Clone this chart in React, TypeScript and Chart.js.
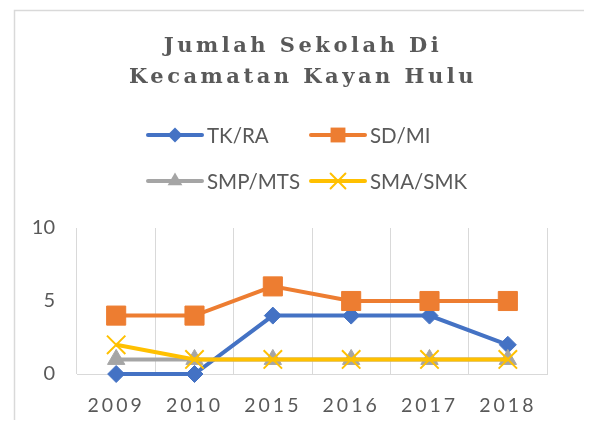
import React, { useEffect, useRef } from "react";
import { Chart, registerables } from "chart.js";

Chart.register(...registerables);

const categories = ["2009", "2010", "2015", "2016", "2017", "2018"];
const tkRa = [0, 0, 4, 4, 4, 2];
const sdMi = [4, 4, 6, 5, 5, 5];
const smpMts = [1, 1, 1, 1, 1, 1];
const smaSmk = [2, 1, 1, 1, 1, 1];
const seriesNames = ["TK/RA", "SD/MI", "SMP/MTS", "SMA/SMK"];
const titleLines = ["Jumlah Sekolah Di", "Kecamatan Kayan Hulu"];
const yMin = 0;
const yMax = 10;
const yStep = 5;

const COLORS = ["#4472C4", "#ED7D31", "#A5A5A5", "#FFC000"];
const STYLES = ["rectRot", "rect", "triangle", "crossRot"];
const RADII = [8.5, 13.5, 10, 13];
const TEXT = "#595959";
const GRID = "#d9d9d9";
const SANS = "Lato, 'Open Sans', sans-serif";

function drawMarker(ctx: CanvasRenderingContext2D, style: string, x: number, y: number, r: number, color: string) {
  ctx.save();
  ctx.fillStyle = color;
  ctx.strokeStyle = color;
  ctx.beginPath();
  if (style === "rectRot") {
    ctx.moveTo(x, y - r);
    ctx.lineTo(x + r, y);
    ctx.lineTo(x, y + r);
    ctx.lineTo(x - r, y);
    ctx.closePath();
    ctx.fill();
  } else if (style === "rect") {
    const s = Math.SQRT1_2 * r;
    ctx.rect(x - s, y - s, 2 * s, 2 * s);
    ctx.fill();
  } else if (style === "triangle") {
    for (let i = 0; i < 3; i++) {
      const a = (i * 2 * Math.PI) / 3;
      const px = x + Math.sin(a) * r;
      const py = y - Math.cos(a) * r;
      if (i === 0) ctx.moveTo(px, py);
      else ctx.lineTo(px, py);
    }
    ctx.closePath();
    ctx.fill();
  } else {
    const s = Math.SQRT1_2 * r;
    ctx.lineWidth = 2;
    ctx.moveTo(x - s, y - s);
    ctx.lineTo(x + s, y + s);
    ctx.moveTo(x + s, y - s);
    ctx.lineTo(x - s, y + s);
    ctx.stroke();
  }
  ctx.restore();
}

const decorPlugin = {
  id: "decor",
  afterLayout(chart: any) {
    const s = chart.scales.x;
    if (s && !s.__spaced) {
      const orig = s.drawLabels.bind(s);
      s.drawLabels = (area: any) => {
        const c = s.ctx;
        c.save();
        (c as any).letterSpacing = "3px";
        orig(area);
        c.restore();
      };
      s.__spaced = true;
    }
  },
  beforeDraw(chart: any) {
    const ctx: CanvasRenderingContext2D = chart.ctx;
    ctx.save();
    ctx.strokeStyle = GRID;
    ctx.lineWidth = 1.5;
    ctx.beginPath();
    ctx.moveTo(6.5, chart.height + 5);
    ctx.lineTo(6.5, 2.5);
    ctx.lineTo(chart.width + 5, 2.5);
    ctx.stroke();
    ctx.restore();
  },
  afterDraw(chart: any) {
    const ctx: CanvasRenderingContext2D = chart.ctx;
    // Title
    ctx.save();
    (ctx as any).letterSpacing = "3.5px";
    ctx.fillStyle = TEXT;
    ctx.font = "bold 21px 'DejaVu Serif', serif";
    ctx.textAlign = "center";
    ctx.textBaseline = "middle";
    const tx = 295;
    ctx.fillText(titleLines[0], tx, 39);
    ctx.fillText(titleLines[1], tx, 70);
    ctx.restore();

    // Legend
    const rows = [127, 173];
    const cols = [140, 303];
    ctx.save();
    ctx.font = `20.5px ${SANS}`;
    ctx.textBaseline = "middle";
    ctx.textAlign = "left";
    seriesNames.forEach((name, i) => {
      const x = cols[i % 2];
      const y = rows[Math.floor(i / 2)];
      ctx.strokeStyle = COLORS[i];
      ctx.lineWidth = 4;
      ctx.lineCap = "round";
      ctx.beginPath();
      ctx.moveTo(x, y);
      ctx.lineTo(x + 54, y);
      ctx.stroke();
      const lr = STYLES[i] === "rectRot" ? 7.5 : STYLES[i] === "triangle" ? 8.5 : 10.5;
      drawMarker(ctx, STYLES[i], x + 27, y, lr, COLORS[i]);
      ctx.fillStyle = TEXT;
      ctx.fillText(name, x + 59, y + 1);
    });
    ctx.restore();
  },
};

export default function App() {
  const ref = useRef<HTMLCanvasElement | null>(null);
  useEffect(() => {
    if (!ref.current) return;
    const values = [tkRa, sdMi, smpMts, smaSmk];
    const chart = new Chart(ref.current, {
      type: "line",
      data: {
        labels: categories,
        datasets: values.map((v, i) => ({
          label: seriesNames[i],
          data: v,
          borderColor: COLORS[i],
          backgroundColor: COLORS[i],
          borderWidth: 4,
          pointStyle: STYLES[i] as any,
          pointRadius: RADII[i],
          pointHoverRadius: RADII[i],
          pointBorderWidth: STYLES[i] === "crossRot" ? 2 : 1,
          pointBorderColor: COLORS[i],
          pointBackgroundColor: COLORS[i],
          tension: 0,
          clip: false as any,
          order: 3 - i,
        })),
      },
      options: {
        responsive: false,
        animation: false,
        layout: { padding: { left: 9, right: 37, top: 220, bottom: 0 } },
        plugins: {
          legend: { display: false },
          title: { display: false },
          tooltip: { enabled: false },
        },
        scales: {
          x: {
            offset: true,
            grid: { display: true, offset: true, color: GRID, lineWidth: 1, drawTicks: false },
            border: { display: true, color: GRID, width: 1 },
            ticks: { color: TEXT, font: { family: SANS, size: 19.5 }, padding: 20, maxRotation: 0 },
            afterFit: (s: any) => {
              s.height = 46;
            },
          },
          y: {
            min: yMin,
            max: yMax,
            grid: { display: false, drawTicks: false },
            border: { display: false },
            ticks: { stepSize: yStep, color: TEXT, font: { family: SANS, size: 20 }, padding: 22 },
            afterFit: (s: any) => {
              s.width = 60;
            },
          },
        },
      },
      plugins: [decorPlugin],
    });
    return () => chart.destroy();
  }, []);
  return (
    <div style={{ width: 576, height: 412 }}>
      <canvas ref={ref} width={576} height={412} style={{ display: "block" }} />
    </div>
  );
}
